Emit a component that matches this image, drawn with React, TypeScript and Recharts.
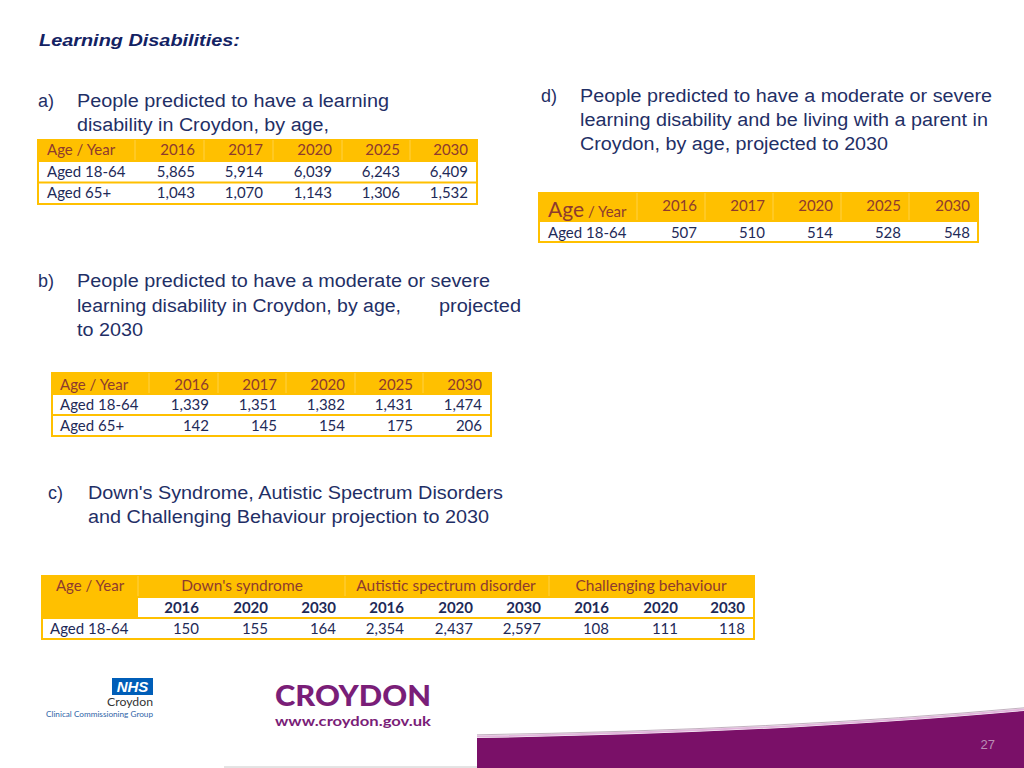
import React from 'react';
import { Surface, Layer, Rectangle } from 'recharts';

// ---------- data ----------
const yearsAll = ['2016', '2017', '2020', '2025', '2030'];
const rowLabels = ['Aged 18-64', 'Aged 65+'];

// a) learning disability
const ldAged1864 = [5865, 5914, 6039, 6243, 6409];
const ldAged65 = [1043, 1070, 1143, 1306, 1532];

// b) moderate or severe
const msAged1864 = [1339, 1351, 1382, 1431, 1474];
const msAged65 = [142, 145, 154, 175, 206];

// c) conditions
const conditionGroups = ["Down's syndrome", 'Autistic spectrum disorder', 'Challenging behaviour'];
const conditionYears = ['2016', '2020', '2030'];
const downsAged1864 = [150, 155, 164];
const autismAged1864 = [2354, 2437, 2597];
const challengingAged1864 = [108, 111, 118];

// d) living with a parent
const parentAged1864 = [507, 510, 514, 528, 548];

const pageNumber = '27';

// ---------- styles ----------
const ORANGE = '#FFC000';
const ORANGE_SEP = '#FFD147';
const HEAD_TXT = '#8E3B2E';
const CELL_TXT = '#1E2A58';
const NAVY = '#1F2F66';
const PURPLE = '#7A1068';
const HEAD_FONT = '"Liberation Sans", Arial, sans-serif';
const CELL_FONT = 'Lato, "Open Sans", sans-serif';

const fmt = (n: number) => n.toLocaleString('en-US');

type SimpleTableProps = {
  x0: number; x1: number; yTop: number; headH: number; rowH: number;
  labelX: number; rights: number[]; seps: number[];
  headBase: number; rowBases: number[];
  headLabel: React.ReactNode; years: string[]; rows: { label: string; values: number[] }[];
};

function SimpleTable(p: SimpleTableProps) {
  const nRows = p.rows.length;
  const bodyTop = p.yTop + p.headH;
  const bodyBottom = bodyTop + nRows * p.rowH;
  return (
    <Layer>
      <Rectangle x={p.x0} y={bodyTop} width={p.x1 - p.x0} height={bodyBottom - bodyTop} fill="#fff" stroke={ORANGE} strokeWidth={2} />
      <Rectangle x={p.x0 - 1} y={p.yTop} width={p.x1 - p.x0 + 2} height={p.headH} fill={ORANGE} />
      {p.seps.map((s, i) => (
        <line key={i} x1={s} x2={s} y1={p.yTop + 1} y2={bodyTop - 1} stroke={ORANGE_SEP} strokeWidth={1} />
      ))}
      {p.rows.slice(1).map((_, i) => (
        <line key={i} x1={p.x0} x2={p.x1} y1={bodyTop + (i + 1) * p.rowH} y2={bodyTop + (i + 1) * p.rowH} stroke={ORANGE} strokeWidth={2} />
      ))}
      <text x={p.labelX} y={p.headBase} fill={HEAD_TXT} fontFamily={CELL_FONT} fontSize={15}>{p.headLabel}</text>
      {p.years.map((y, i) => (
        <text key={y} x={p.rights[i]} y={p.headBase} textAnchor="end" fill={HEAD_TXT} fontFamily={CELL_FONT} fontSize={15}>{y}</text>
      ))}
      {p.rows.map((r, ri) => (
        <g key={r.label}>
          <text x={p.labelX} y={p.rowBases[ri]} fill={CELL_TXT} fontFamily={CELL_FONT} fontSize={15}>{r.label}</text>
          {r.values.map((v, i) => (
            <text key={i} x={p.rights[i]} y={p.rowBases[ri]} textAnchor="end" fill={CELL_TXT} fontFamily={CELL_FONT} fontSize={15}>{fmt(v)}</text>
          ))}
        </g>
      ))}
    </Layer>
  );
}

function Heading({ x, y, lines, widths, marker, markerX }: { x: number; y: number; lines: string[]; widths: number[]; marker: string; markerX: number }) {
  return (
    <g fontFamily={HEAD_FONT} fontSize={18} fill={NAVY}>
      <text x={markerX} y={y}>{marker}</text>
      {lines.map((l, i) => (
        <text key={i} x={x} y={y + i * 24.2} textLength={widths[i]} lengthAdjust="spacingAndGlyphs">{l}</text>
      ))}
    </g>
  );
}

function ConditionsTable() {
  const x0 = 42, x1 = 754, yTop = 575, r1 = 597, r2 = 618, r3 = 639;
  const col1R = 138;
  const groupSeps = [345, 549];
  const groupCenters = [242, 446, 651];
  const rights = [199, 268, 336, 404, 473, 541, 609, 678, 745];
  const values = [...downsAged1864, ...autismAged1864, ...challengingAged1864];
  const years = [...conditionYears, ...conditionYears, ...conditionYears];
  return (
    <Layer>
      <Rectangle x={x0} y={r1} width={x1 - x0} height={r3 - r1} fill="#fff" stroke={ORANGE} strokeWidth={2} />
      <Rectangle x={x0 - 1} y={yTop} width={x1 - x0 + 2} height={r1 - yTop} fill={ORANGE} />
      <Rectangle x={x0 - 1} y={r1 - 1} width={col1R - x0 + 1} height={r2 - r1 + 1} fill={ORANGE} />
      <line x1={col1R} x2={col1R} y1={yTop + 1} y2={r1 - 1} stroke={ORANGE_SEP} strokeWidth={1} />
      {groupSeps.map((s) => (
        <line key={s} x1={s} x2={s} y1={yTop + 1} y2={r1 - 1} stroke={ORANGE_SEP} strokeWidth={1} />
      ))}
      <line x1={x0} x2={x1} y1={r2} y2={r2} stroke={ORANGE} strokeWidth={2} />
      <text x={90} y={591} textAnchor="middle" fill={HEAD_TXT} fontFamily={CELL_FONT} fontSize={15}>Age / Year</text>
      {conditionGroups.map((g, i) => (
        <text key={g} x={groupCenters[i]} y={591} textAnchor="middle" fill={HEAD_TXT} fontFamily={CELL_FONT} fontSize={15.5}>{g}</text>
      ))}
      {years.map((y, i) => (
        <text key={i} x={rights[i]} y={613} textAnchor="end" fill={CELL_TXT} fontFamily={CELL_FONT} fontWeight={700} fontSize={15}>{y}</text>
      ))}
      <text x={50} y={634} fill={CELL_TXT} fontFamily={CELL_FONT} fontSize={15}>{rowLabels[0]}</text>
      {values.map((v, i) => (
        <text key={i} x={rights[i]} y={634} textAnchor="end" fill={CELL_TXT} fontFamily={CELL_FONT} fontSize={15}>{fmt(v)}</text>
      ))}
    </Layer>
  );
}

function Footer() {
  const bandPath = `M477,738 Q780,733 1024,711 L1024,768 L477,768 Z`;
  return (
    <Layer>
      {/* NHS logo */}
      <Rectangle x={112} y={678} width={41} height={17} fill="#005EB8" />
      <text x={132.5} y={692} textAnchor="middle" fill="#fff" fontFamily={HEAD_FONT} fontWeight={700} fontStyle="italic" fontSize={15}>NHS</text>
      <text x={153} y={706} textAnchor="end" fill="#333" fontFamily={CELL_FONT} fontSize={11.5} textLength={46} lengthAdjust="spacingAndGlyphs">Croydon</text>
      <text x={46} y={717} fill="#2D63A8" fontFamily={CELL_FONT} fontSize={8} textLength={107} lengthAdjust="spacingAndGlyphs">Clinical Commissioning Group</text>
      {/* Croydon logo */}
      <text x={275} y={705.5} fill="#7A1E78" fontFamily={CELL_FONT} fontWeight={900} fontSize={28} textLength={156} lengthAdjust="spacingAndGlyphs">CROYDON</text>
      <text x={275} y={725.5} fill="#7A1E78" fontFamily={CELL_FONT} fontWeight={700} fontSize={14} textLength={156} lengthAdjust="spacingAndGlyphs">www.croydon.gov.uk</text>
      {/* bottom band */}
      <line x1={224} x2={477} y1={767} y2={767} stroke="#C8C8C8" strokeWidth={1} />
      <path d={bandPath} fill={PURPLE} />
      <path d="M477,736.5 Q780,731.5 1024,709.5" fill="none" stroke="#E2B6DC" strokeWidth={2} />
      <path d="M477,734.8 Q780,729.8 1024,707.8" fill="none" stroke="#A890A4" strokeWidth={1} opacity={0.7} />
      <text x={995} y={749} textAnchor="end" fill="#B98EB5" fontFamily={HEAD_FONT} fontSize={13}>{pageNumber}</text>
    </Layer>
  );
}

export default function App() {
  return (
    <div style={{ position: 'absolute', left: 0, top: 0, width: 1024, height: 768, background: '#fff' }}>
      <Surface width={1024} height={768} viewBox={{ x: 0, y: 0, width: 1024, height: 768 }}>
        <rect x={0} y={0} width={1024} height={768} fill="#fff" />
        <text x={39} y={46} fill="#132263" fontFamily={HEAD_FONT} fontWeight={700} fontStyle="italic" fontSize={17} textLength={201} lengthAdjust="spacingAndGlyphs">Learning Disabilities:</text>

        <Heading marker="a)" markerX={38} x={77} y={107}
          lines={['People predicted to have a learning', 'disability in Croydon, by age,']} widths={[312, 252]} />
        <SimpleTable x0={38} x1={477} yTop={139} headH={22} rowH={21.5}
          labelX={47} rights={[195, 263, 332, 400, 468]} seps={[135, 204, 273, 342, 410]}
          headBase={155} rowBases={[177, 198]} headLabel="Age / Year" years={yearsAll}
          rows={[{ label: rowLabels[0], values: ldAged1864 }, { label: rowLabels[1], values: ldAged65 }]} />

        <Heading marker="d)" markerX={541} x={580} y={102}
          lines={['People predicted to have a moderate or severe', 'learning disability and be living with a parent in', 'Croydon, by age, projected to 2030']} widths={[412, 408, 308]} />
        <SimpleTable x0={539} x1={978} yTop={192} headH={29} rowH={21}
          labelX={548} rights={[697, 765, 833, 901, 970]} seps={[637, 705, 773, 841, 909]}
          headBase={211} rowBases={[238]}
          headLabel={<><tspan fontSize={21} dy={6}>Age</tspan><tspan fontSize={15}> / Year</tspan></>}
          years={yearsAll}
          rows={[{ label: rowLabels[0], values: parentAged1864 }]} />

        <g fontFamily={HEAD_FONT} fontSize={18} fill={NAVY}>
          <text x={38} y={287}>b)</text>
          <text x={77} y={287} textLength={413} lengthAdjust="spacingAndGlyphs">People predicted to have a moderate or severe</text>
          <text x={77} y={311.5} textLength={324} lengthAdjust="spacingAndGlyphs">learning disability in Croydon, by age,</text>
          <text x={439} y={311.5} textLength={82} lengthAdjust="spacingAndGlyphs">projected</text>
          <text x={77} y={335.5} textLength={66} lengthAdjust="spacingAndGlyphs">to 2030</text>
        </g>
        <SimpleTable x0={52} x1={491} yTop={372} headH={22} rowH={21}
          labelX={60} rights={[209, 277, 345, 413, 482]} seps={[149, 218, 286, 355, 423]}
          headBase={390} rowBases={[410, 431]} headLabel="Age / Year" years={yearsAll}
          rows={[{ label: rowLabels[0], values: msAged1864 }, { label: rowLabels[1], values: msAged65 }]} />

        <Heading marker="c)" markerX={48} x={88} y={499}
          lines={["Down's Syndrome, Autistic Spectrum Disorders", 'and Challenging Behaviour projection to 2030']} widths={[415, 401]} />
        <ConditionsTable />

        <Footer />
      </Surface>
    </div>
  );
}
